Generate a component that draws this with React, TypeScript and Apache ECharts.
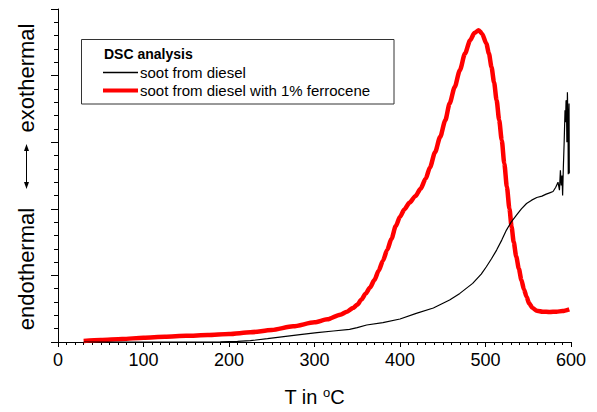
import React, { useEffect, useRef } from "react";
import * as echarts from "echarts";

const xTicks = [0, 100, 200, 300, 400, 500, 600];
const legendTitle = "DSC analysis";
const seriesNames = ["soot from diesel", "soot from diesel with 1% ferrocene"];

const sootDiesel: [number, number][] = [
  [30, 0], [100, 0], [150, 0], [190, 0.003], [210, 0.01], [225, 0.02], [245, 0.05],
  [264, 0.08], [283, 0.11], [303, 0.14], [322, 0.165], [341, 0.19], [350, 0.215],
  [361, 0.255], [380, 0.29], [400, 0.345], [419, 0.43], [439, 0.51], [458, 0.63],
  [470, 0.73], [485, 0.88], [495, 1.02], [501, 1.13], [507, 1.25], [513, 1.38],
  [519, 1.53], [524.5, 1.68], [530, 1.8], [536, 1.9], [542, 2.0], [548, 2.08],
  [554, 2.13], [560, 2.17], [566, 2.19], [571, 2.22], [575, 2.24], [579, 2.26],
  [582, 2.32], [584.8, 2.4], [586.5, 2.28], [587.6, 2.58], [588.5, 2.35], [589.5, 2.5],
  [590.2, 2.2], [591, 2.6], [592, 3.0], [593, 3.48], [593.6, 3.3], [594.2, 3.62],
  [594.6, 3.63], [595.2, 3.0], [595.8, 3.75], [596.3, 3.4], [596.5, 3.3], [596.8, 2.52],
  [597.2, 3.2], [597.7, 3.58], [598, 2.53],
];

const sootFerrocene: [number, number][] = [
  [30, 0.015], [50, 0.03], [75, 0.045], [100, 0.064], [125, 0.078], [150, 0.092],
  [175, 0.105], [200, 0.12], [225, 0.145], [250, 0.18], [275, 0.235], [300, 0.295],
  [315, 0.34], [330, 0.41], [338, 0.455], [345, 0.51], [350, 0.56], [355, 0.64],
  [360, 0.73], [365, 0.82], [370, 0.93], [375, 1.07], [380, 1.22], [385, 1.38], [390, 1.55],
  [395, 1.74], [400, 1.88], [405, 1.99], [411, 2.09], [418, 2.19], [424, 2.3],
  [430, 2.45], [435, 2.62], [441, 2.85], [447, 3.08], [453, 3.33], [458, 3.58],
  [464, 3.83], [470, 4.08], [476, 4.33], [482, 4.53], [487, 4.64], [492, 4.68],
  [496, 4.63], [501, 4.48], [504, 4.33], [507, 4.13], [510, 3.9], [513, 3.63],
  [516, 3.33], [519, 3.03], [522, 2.68], [525, 2.33], [528, 2.0], [530.5, 1.73],
  [533, 1.5], [536, 1.28], [539, 1.1], [542, 0.93], [545, 0.79], [548, 0.68],
  [551, 0.58], [555, 0.51], [560, 0.47], [567, 0.455], [575, 0.45], [583, 0.455],
  [590, 0.465], [598, 0.49],
];

const FONT = "'Liberation Sans', Arial, sans-serif";

export default function App() {
  const ref = useRef<HTMLDivElement>(null);
  useEffect(() => {
    document.body.style.margin = "0";
    const chart = echarts.init(ref.current!, null, { renderer: "svg" });
    const axisCommon = {
      axisLine: { show: true, onZero: false, lineStyle: { color: "#000", width: 1 } },
      splitLine: { show: false },
    };
    chart.setOption({
      animation: false,
      backgroundColor: "#fff",
      grid: { left: 58, right: 26, top: 9, bottom: 70, containLabel: false },
      xAxis: {
        type: "value",
        min: xTicks[0],
        max: xTicks[xTicks.length - 1],
        interval: 100,
        ...axisCommon,
        axisTick: { show: true, inside: false, length: 5, lineStyle: { color: "#000" } },
        minorTick: { show: true, splitNumber: 10, length: 3, lineStyle: { color: "#000" } },
        axisLabel: { color: "#000", fontSize: 18, fontFamily: FONT, margin: 9 },
        name: "T in {sup|o}C",
        nameLocation: "middle",
        nameGap: 44,
        nameTextStyle: {
          color: "#000",
          fontSize: 20,
          fontFamily: FONT,
          rich: {
            sup: { fontSize: 13, fontFamily: FONT, color: "#000", verticalAlign: "top", padding: [0, 0, 8, 0] },
          },
        },
      },
      yAxis: {
        type: "value",
        min: 0,
        max: 5,
        interval: 1,
        ...axisCommon,
        axisTick: { show: true, inside: false, length: 7, lineStyle: { color: "#000" } },
        minorTick: { show: true, splitNumber: 5, length: 4, lineStyle: { color: "#000" } },
        axisLabel: { show: false },
      },
      series: [
        {
          name: seriesNames[0],
          type: "line",
          data: sootDiesel,
          showSymbol: false,
          lineStyle: { color: "#000", width: 1.2 },
          z: 3,
        },
        {
          name: seriesNames[1],
          type: "line",
          data: sootFerrocene,
          showSymbol: false,
          smooth: 0.25,
          smoothMonotone: "x",
          lineStyle: { color: "#ff0000", width: 4.5 },
          z: 2,
        },
      ],
      graphic: [
        {
          type: "text",
          x: 26,
          y: 78,
          rotation: Math.PI / 2,
          style: { text: "exothermal", fontSize: 22, fontFamily: FONT, fill: "#000", align: "center", verticalAlign: "middle" },
        },
        {
          type: "text",
          x: 26,
          y: 269,
          rotation: Math.PI / 2,
          style: { text: "endothermal", fontSize: 22, fontFamily: FONT, fill: "#000", align: "center", verticalAlign: "middle" },
        },
        { type: "line", shape: { x1: 26.5, y1: 149, x2: 26.5, y2: 184 }, style: { stroke: "#000", lineWidth: 1 } },
        { type: "polygon", shape: { points: [[26.5, 144], [24, 151], [29, 151]] }, style: { fill: "#000" } },
        { type: "polygon", shape: { points: [[26.5, 189], [24, 182], [29, 182]] }, style: { fill: "#000" } },
        {
          type: "rect",
          shape: { x: 81.5, y: 39.5, width: 312.5, height: 64.5 },
          style: { fill: "#fff", stroke: "#333", lineWidth: 1 },
          z: 10,
        },
        {
          type: "text",
          x: 104,
          y: 53.5,
          z: 11,
          style: { text: legendTitle, fontSize: 14, fontWeight: "bold", fontFamily: FONT, fill: "#000", verticalAlign: "middle" },
        },
        { type: "line", z: 11, shape: { x1: 103, y1: 72.5, x2: 138, y2: 72.5 }, style: { stroke: "#000", lineWidth: 1.5 } },
        {
          type: "text",
          x: 140,
          y: 72.5,
          z: 11,
          style: { text: seriesNames[0], fontSize: 15, fontFamily: FONT, fill: "#000", verticalAlign: "middle" },
        },
        { type: "line", z: 11, shape: { x1: 103, y1: 90.5, x2: 138, y2: 90.5 }, style: { stroke: "#ff0000", lineWidth: 4 } },
        {
          type: "text",
          x: 140,
          y: 90.5,
          z: 11,
          style: { text: seriesNames[1], fontSize: 15, fontFamily: FONT, fill: "#000", verticalAlign: "middle" },
        },
      ],
    });
    return () => chart.dispose();
  }, []);
  return <div ref={ref} style={{ width: 597, height: 412 }} />;
}
